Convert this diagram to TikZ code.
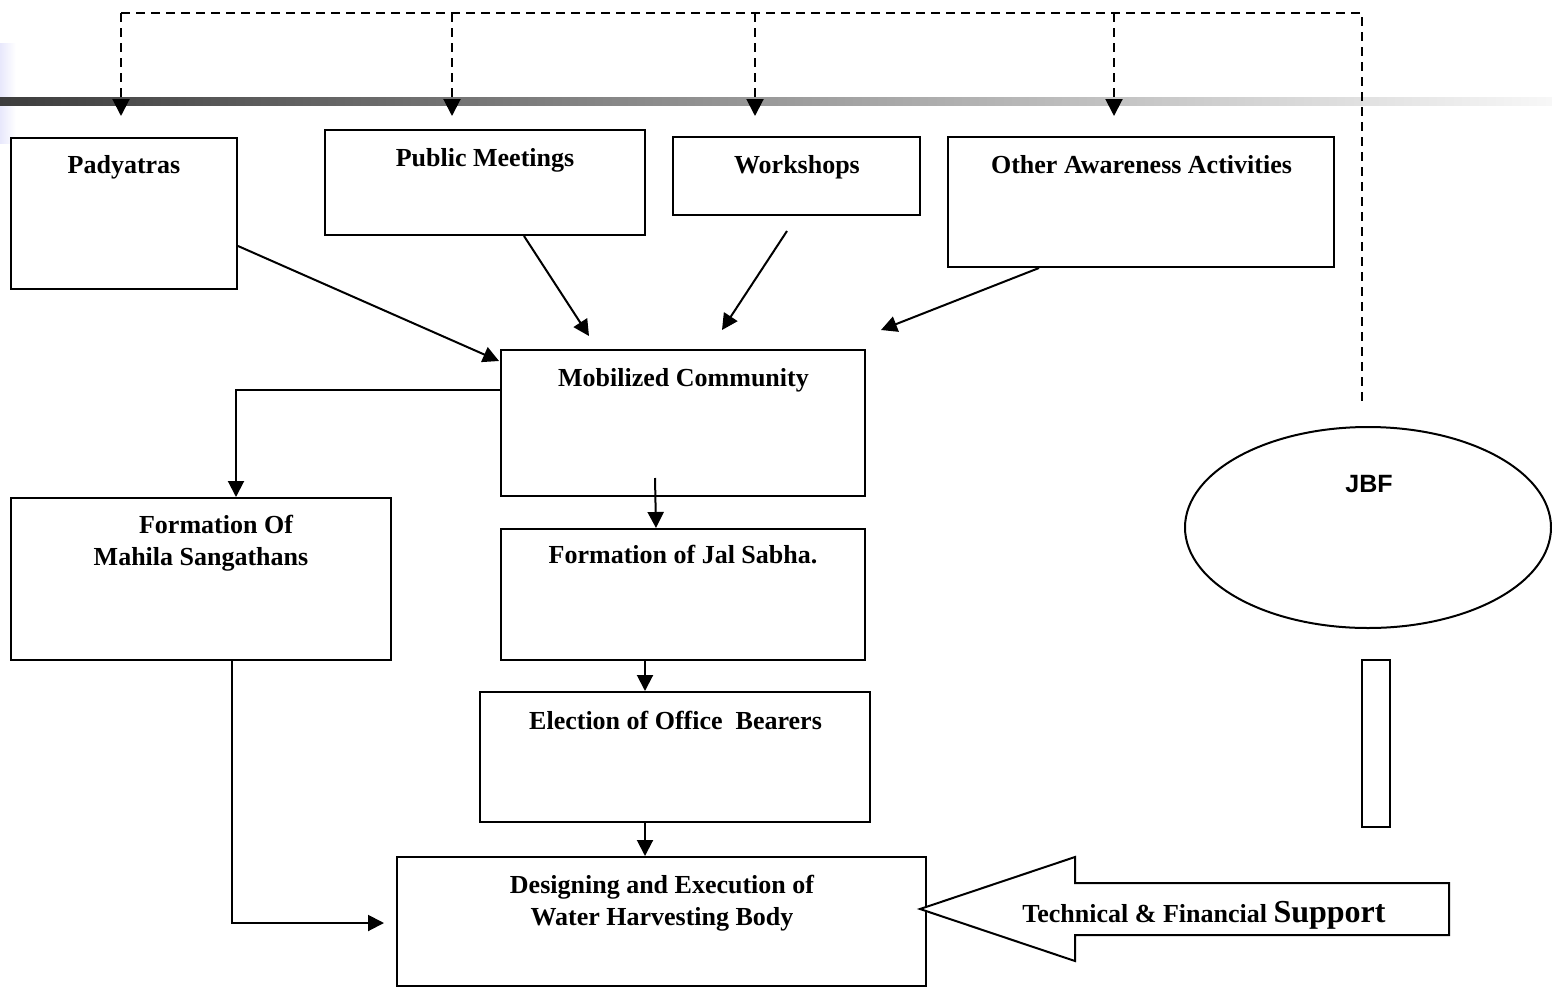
\documentclass[tikz,border=0pt]{standalone}
\usepackage{fontspec}
\setmainfont{Liberation Serif}
\newfontfamily\arialfont{Liberation Sans}
\usetikzlibrary{arrows.meta,calc,shapes.geometric}
\definecolor{lav}{RGB}{232,232,252}
\tikzset{
  box/.style={draw=black,line width=2pt,rectangle,inner sep=0pt,fill=white},
  lbl/.style={anchor=base,font=\bfseries\fontsize{26}{32}\selectfont,align=center,inner sep=0pt},
  arr/.style={line width=2pt,-{Triangle[length=16pt,width=16pt]}},
  conn/.style={line width=2pt},
  dasharr/.style={line width=2pt,dash pattern=on 9pt off 6pt,-{Triangle[length=17pt,width=17pt]}},
  dashln/.style={line width=2pt,dash pattern=on 9pt off 6pt},
}
\begin{document}
\begin{tikzpicture}[x=1pt,y=-1pt]
\useasboundingbox (0,0) rectangle (1552,988);
% decorative background
\shade[left color=lav,right color=white] (0,43) rectangle (16,143);
\shade[left color=black!76,middle color=black!30,right color=black!3] (0,97) rectangle (1552,105);

% top dashed distribution line
\coordinate (dL) at (121,13);
\coordinate (dR) at (1362,13);
\coordinate (dE) at (1362,405);
\coordinate (t1) at (121,116);
\coordinate (t2) at (452,116);
\coordinate (t3) at (755,116);
\coordinate (t4) at (1114,116);
\draw[dashln] (t1 |- dL) -- (dR) -- (dE);
\draw[dasharr] (dL) -- (t1);
\draw[dasharr] (t2 |- dL) -- (t2);
\draw[dasharr] (t3 |- dL) -- (t3);
\draw[dasharr] (t4 |- dL) -- (t4);

% boxes
\node[box,minimum width=226pt,minimum height=151pt] (pad) at (124,213.5) {};
\node[lbl] (padL) at (124,173) {Padyatras};
\node[box,minimum width=320pt,minimum height=105pt] (pub) at (485,182.5) {};
\node[lbl] (pubL) at (485,166) {Public Meetings};
\node[box,minimum width=247pt,minimum height=78pt] (wor) at (796.5,176) {};
\node[lbl] (worL) at (797,173) {Workshops};
\node[box,minimum width=386pt,minimum height=130pt] (oth) at (1141,202) {};
\node[lbl] (othL) at (1141.5,173) {Other Awareness Activities};
\node[box,minimum width=364pt,minimum height=146pt] (mob) at (683,423) {};
\node[lbl] (mobL) at (683.5,386) {Mobilized Community};
\node[box,minimum width=364pt,minimum height=131pt] (jal) at (683,594.5) {};
\node[lbl] (jalL) at (683,563) {Formation of Jal Sabha.};
\node[box,minimum width=380pt,minimum height=162pt] (mah) at (201,579) {};
\node[lbl] (mahL) at (201,565) {\hspace*{30pt}Formation Of\\Mahila Sangathans};
\node[box,minimum width=390pt,minimum height=130pt] (ele) at (675,757) {};
\node[lbl] (eleL) at (675.5,729) {Election of Office\ \ Bearers};
\node[box,minimum width=529pt,minimum height=129pt] (des) at (661.5,921.5) {};
\node[lbl] (desL) at (662,925) {Designing and Execution of\\Water Harvesting Body};

% JBF
\node[draw,line width=2pt,ellipse,minimum width=366pt,minimum height=201pt,inner sep=0pt] (jbf) at (1368,527.5) {};
\node[anchor=base,font=\arialfont\bfseries\fontsize{25}{30}\selectfont,inner sep=0pt] (jbfL) at (1369,492) {JBF};
\node[box,line width=1.6pt,minimum width=28pt,minimum height=167pt] (bar) at (1376,743.5) {};

% big support arrow
\coordinate (aTip) at (920,909);
\coordinate (aH1) at (1075,857);
\coordinate (aS1) at (1075,883);
\coordinate (aS2) at (1449,883);
\coordinate (aS3) at (1449,935);
\coordinate (aS4) at (1075,935);
\coordinate (aH2) at (1075,961);
\draw[line width=2pt,fill=white,line join=miter] (aTip) -- (aH1) -- (aS1) -- (aS2) -- (aS3) -- (aS4) -- (aH2) -- cycle;
\node[anchor=base,inner sep=0pt,font=\bfseries\fontsize{26}{30}\selectfont] (supL) at (1204,922) {Technical \& Financial {\fontsize{32}{36}\selectfont Support}};

% connectors
\draw[arr] ($(pad.north east)+(0,109)$) -- ($(mob.north west)+(-1,12)$);
\draw[arr] ($(pub.south west)+(200,0)$) -- ($(mob.north west)+(89,-13)$);
\draw[arr] ($(wor.south west)+(115,15)$) -- ($(mob.north west)+(222,-19)$);
\draw[arr] ($(oth.south west)+(92,0)$) -- ($(mob.north west)+(381,-19)$);
\draw[arr] ($(mob.north west)+(0,41)$) -| ($(mah.north west)+(226,0)$);
\draw[arr] ($(mob.south west)+(155,-19)$) -- (jal.north -| 656,0);
\draw[arr] (jal.south -| 645,0) -- (ele.north -| 645,0);
\draw[arr] (ele.south -| 645,0) -- (des.north -| 645,0);
\draw[arr] (mah.south -| 232,0) |- ($(des.west)+(-12,1.5)$);
\end{tikzpicture}
\end{document}
